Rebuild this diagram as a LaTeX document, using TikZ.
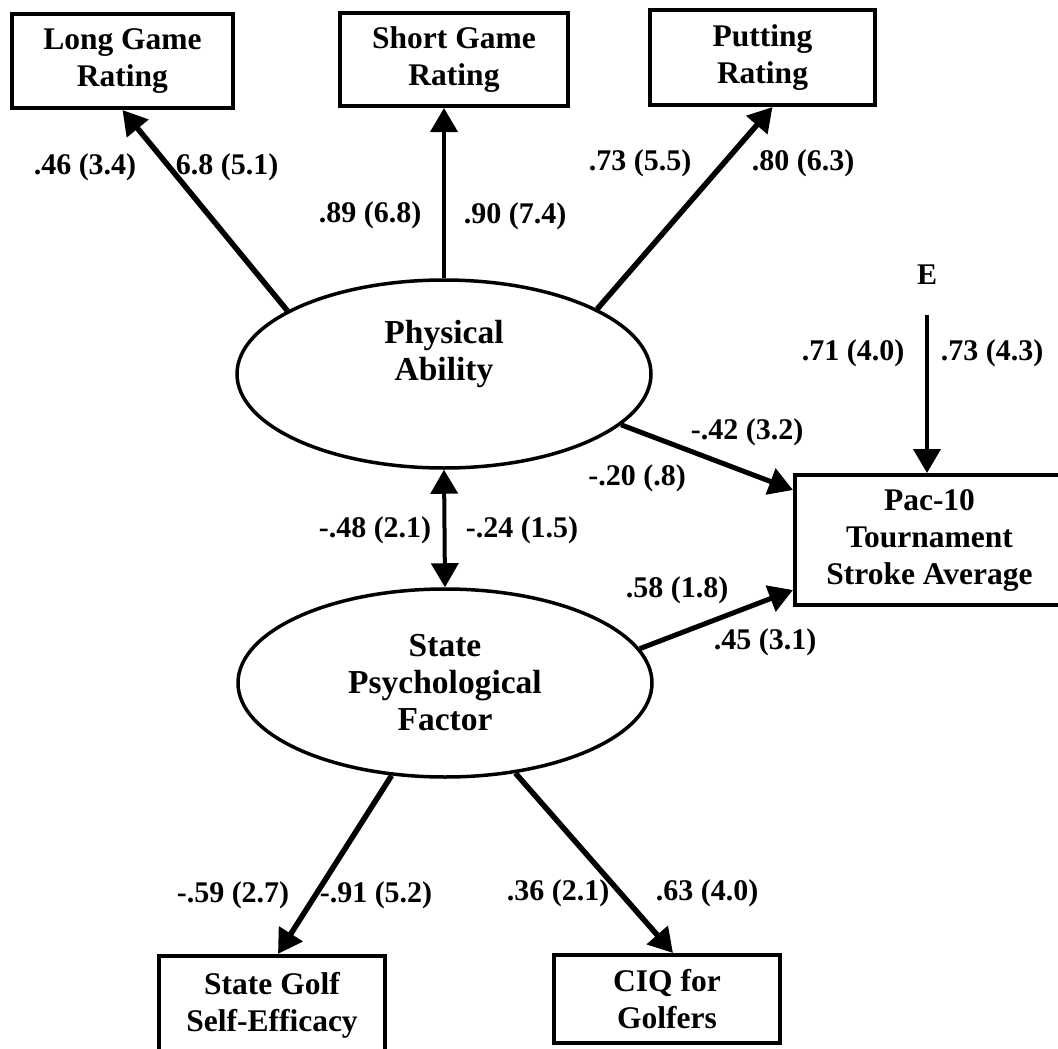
\documentclass[tikz,border=0pt]{standalone}
\usepackage{fontspec}
\setmainfont{Liberation Serif}
\usetikzlibrary{arrows.meta,shapes.geometric}
\begin{document}
\begin{tikzpicture}[x=1pt,y=-1pt,
  box/.style={draw,line width=4pt,rectangle,inner sep=0pt,align=center,
    font=\fontsize{31.5}{37}\selectfont\bfseries},
  latent/.style={draw,line width=3.5pt,ellipse,inner sep=0pt,align=center,
    minimum width=414pt,minimum height=188pt,
    font=\fontsize{33.5}{37}\selectfont\bfseries},
  ltext/.style={inner sep=0pt,align=center,font=\fontsize{33.5}{37}\selectfont\bfseries},
  lbl/.style={inner sep=0pt,font=\fontsize{30}{35}\selectfont\bfseries},
  arr/.style={line width=5.5pt,-{Triangle[length=24pt,width=27pt]}},
  dbl/.style={line width=4pt,{Triangle[length=24pt,width=27pt]}-{Triangle[length=24pt,width=27pt]}},
]
\fill[white] (0,0) rectangle (1058,1049);
\useasboundingbox (0,0) rectangle (1058,1049);

% observed boxes
\node[box,minimum width=221pt,minimum height=94pt] (LG) at (122.5,61) {Long Game\\Rating};
\node[box,minimum width=228pt,minimum height=93pt] (SG) at (454,59.5) {Short Game\\Rating};
\node[box,minimum width=225pt,minimum height=95pt] (PR) at (762.5,57.5) {Putting\\Rating};
\node[box,minimum width=269pt,minimum height=130pt] (Pac) at (929.5,540) {Pac-10\\Tournament\\Stroke Average};
\node[box,minimum width=226pt,minimum height=98pt] (SGSE) at (272,1005) {State Golf\\Self-Efficacy};
\node[box,minimum width=226pt,minimum height=88pt] (CIQ) at (667,999) {CIQ for\\Golfers};

% latent factors
\node[latent] (PA) at (444,374) {};
\node[ltext] (PAt) at (444,354) {Physical\\Ability};
\node[latent] (SP) at (445,683) {State\\Psychological\\Factor};

% error term
\node[lbl] (E) at (927,275) {E};

% connectors
\draw[arr] (PA.158) -- (LG.south);
\draw[arr,line width=4pt] (PA.north) -- (PA.north |- SG.south);
\draw[arr] (PA.23) -- ([xshift=10pt]PR.south);
\draw[arr,line width=5pt] (PA.-16) -- ([yshift=50pt]Pac.west);
\draw[arr,line width=5pt] (SP.10) -- ([yshift=-50pt]Pac.west);
\draw[dbl] (PA.south) -- (SP.north);
\draw[arr,line width=4pt] ([yshift=-30pt]E.south) -- (E.south |- Pac.north);
\draw[arr] (SP.240) -- ([xshift=6pt]SGSE.north);
\draw[arr] (SP.-52) -- ([xshift=6pt]CIQ.north);

% coefficient labels
\node[lbl] (l1) at (85,167) {.46 (3.4)};
\node[lbl] (l2) at (227,167) {6.8 (5.1)};
\node[lbl] (l3) at (370,215) {.89 (6.8)};
\node[lbl] (l4) at (515,216) {.90 (7.4)};
\node[lbl] (l5) at (640,163) {.73 (5.5)};
\node[lbl] (l6) at (803,163) {.80 (6.3)};
\node[lbl] (l7) at (853,353) {.71 (4.0)};
\node[lbl] (l8) at (992,353) {.73 (4.3)};
\node[lbl] (l9) at (747,432) {-.42 (3.2)};
\node[lbl] (l10) at (637,478) {-.20 (.8)};
\node[lbl] (l11) at (375,530) {-.48 (2.1)};
\node[lbl] (l12) at (522,530) {-.24 (1.5)};
\node[lbl] (l13) at (677,590) {.58 (1.8)};
\node[lbl] (l14) at (765,642) {.45 (3.1)};
\node[lbl] (l15) at (233,895) {-.59 (2.7)};
\node[lbl] (l16) at (376,895) {-.91 (5.2)};
\node[lbl] (l17) at (558,893) {.36 (2.1)};
\node[lbl] (l18) at (707,893) {.63 (4.0)};
\end{tikzpicture}
\end{document}
